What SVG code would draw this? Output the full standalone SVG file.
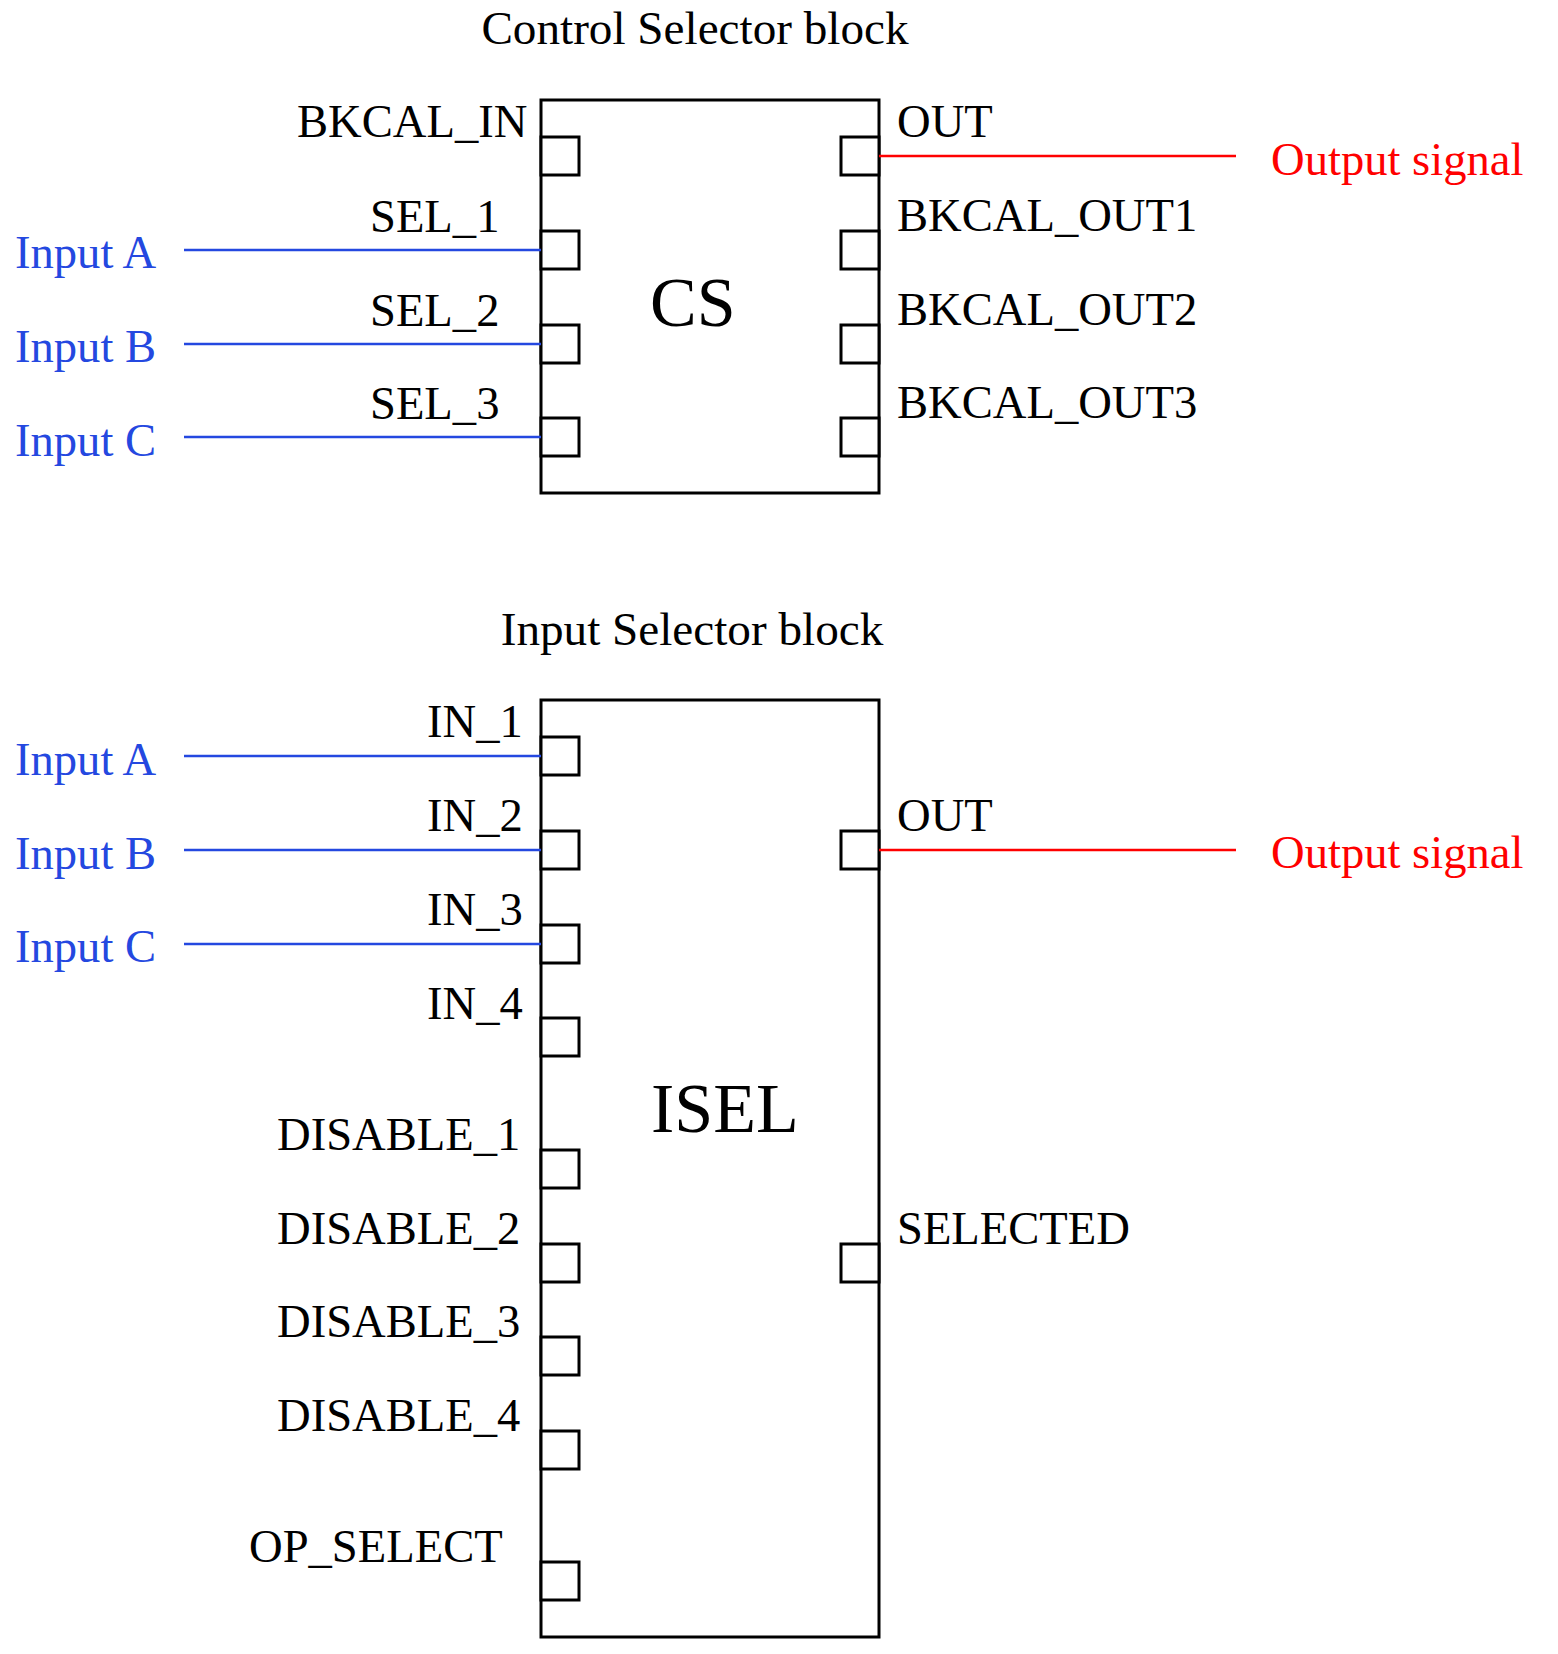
<svg xmlns="http://www.w3.org/2000/svg" width="1558" height="1654" viewBox="0 0 1558 1654">
<style>
text{font-family:"Liberation Serif","Times New Roman",serif;font-size:46.6px;fill:#000}
.title{text-anchor:middle;font-size:47.2px}
.big{font-size:70px}
.blue{fill:#2448e0}
.red{fill:#f00}
.box{fill:#fff;stroke:#000;stroke-width:3}
.port{fill:#fff;stroke:#000;stroke-width:3}
.in{stroke:#2448e0;stroke-width:2.5;fill:none}
.out{stroke:#f00;stroke-width:2.5;fill:none}
</style>
<rect width="1558" height="1654" fill="#fff"/>

<g id="cs-block">
<text class="title" x="695" y="44">Control Selector block</text>
<rect class="box" x="541" y="100" width="338" height="393"/>
<rect class="port" x="541" y="137" width="38" height="38"/>
<rect class="port" x="541" y="231" width="38" height="38"/>
<rect class="port" x="541" y="325" width="38" height="38"/>
<rect class="port" x="541" y="418" width="38" height="38"/>
<rect class="port" x="841" y="137" width="38" height="38"/>
<rect class="port" x="841" y="231" width="38" height="38"/>
<rect class="port" x="841" y="325" width="38" height="38"/>
<rect class="port" x="841" y="418" width="38" height="38"/>
<text x="297" y="137">BKCAL_IN</text>
<text x="370" y="232">SEL_1</text>
<text x="370" y="326">SEL_2</text>
<text x="370" y="419">SEL_3</text>
<text x="897" y="137">OUT</text>
<text x="897" y="231">BKCAL_OUT1</text>
<text x="897" y="325">BKCAL_OUT2</text>
<text x="897" y="418">BKCAL_OUT3</text>
<text class="big" x="650" y="326">CS</text>
</g>

<g id="cs-inputs">
<text class="blue" x="15" y="268">Input A</text>
<text class="blue" x="15" y="362">Input B</text>
<text class="blue" x="15" y="456">Input C</text>
</g>
<g id="cs-output">
<text class="red" x="1271" y="175">Output signal</text>
</g>

<g id="isel-block">
<text class="title" x="692" y="645">Input Selector block</text>
<rect class="box" x="541" y="700" width="338" height="937"/>
<rect class="port" x="541" y="737" width="38" height="38"/>
<rect class="port" x="541" y="831" width="38" height="38"/>
<rect class="port" x="541" y="925" width="38" height="38"/>
<rect class="port" x="541" y="1018" width="38" height="38"/>
<rect class="port" x="541" y="1150" width="38" height="38"/>
<rect class="port" x="541" y="1244" width="38" height="38"/>
<rect class="port" x="541" y="1337" width="38" height="38"/>
<rect class="port" x="541" y="1431" width="38" height="38"/>
<rect class="port" x="541" y="1562" width="38" height="38"/>
<rect class="port" x="841" y="831" width="38" height="38"/>
<rect class="port" x="841" y="1244" width="38" height="38"/>
<text x="427" y="737">IN_1</text>
<text x="427" y="831">IN_2</text>
<text x="427" y="925">IN_3</text>
<text x="427" y="1019">IN_4</text>
<text x="277" y="1150">DISABLE_1</text>
<text x="277" y="1244">DISABLE_2</text>
<text x="277" y="1337">DISABLE_3</text>
<text x="277" y="1431">DISABLE_4</text>
<text x="249" y="1562">OP_SELECT</text>
<text x="897" y="831">OUT</text>
<text x="897" y="1244">SELECTED</text>
<text class="big" x="651" y="1132">ISEL</text>
</g>

<g id="isel-inputs">
<text class="blue" x="15" y="775">Input A</text>
<text class="blue" x="15" y="869">Input B</text>
<text class="blue" x="15" y="962">Input C</text>
</g>
<g id="isel-output">
<text class="red" x="1271" y="868">Output signal</text>
</g>

<g id="connectors">
<line class="in" x1="184" y1="250" x2="541" y2="250"/>
<line class="in" x1="184" y1="344" x2="541" y2="344"/>
<line class="in" x1="184" y1="437" x2="541" y2="437"/>
<line class="out" x1="879" y1="156" x2="1236" y2="156"/>
<line class="in" x1="184" y1="756" x2="541" y2="756"/>
<line class="in" x1="184" y1="850" x2="541" y2="850"/>
<line class="in" x1="184" y1="944" x2="541" y2="944"/>
<line class="out" x1="879" y1="850" x2="1236" y2="850"/>
</g>
</svg>
